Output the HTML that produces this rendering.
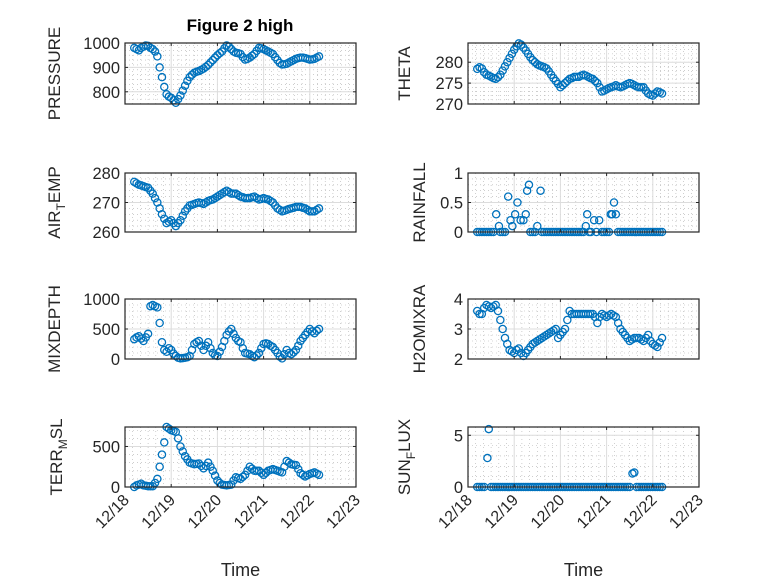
<!DOCTYPE html>
<html><head><meta charset="utf-8"><style>
html,body{margin:0;padding:0;background:#fff;}
svg{display:block;font-family:"Liberation Sans",sans-serif;}
</style></head><body>
<svg id="fig" width="778" height="583" viewBox="0 0 778 583" xmlns="http://www.w3.org/2000/svg">
<rect x="0" y="0" width="778" height="583" fill="#fff"/>
<text x="240" y="31" text-anchor="middle" font-size="17" font-weight="bold" fill="#000">Figure 2 high</text>
</svg>
<script>
const times=[0.20,0.25,0.30,0.35,0.40,0.45,0.50,0.55,0.60,0.65,0.70,0.75,0.80,0.85,0.90,0.95,1.00,1.05,1.10,1.15,1.20,1.25,1.30,1.35,1.40,1.45,1.50,1.55,1.60,1.65,1.70,1.75,1.80,1.85,1.90,1.95,2.00,2.05,2.10,2.15,2.20,2.25,2.30,2.35,2.40,2.45,2.50,2.55,2.60,2.65,2.70,2.75,2.80,2.85,2.90,2.95,3.00,3.05,3.10,3.15,3.20,3.25,3.30,3.35,3.40,3.45,3.50,3.55,3.60,3.65,3.70,3.75,3.80,3.85,3.90,3.95,4.00,4.05,4.10,4.15,4.20];
const pressure=[980,975,970,980,985,990,988,980,975,965,945,900,860,820,790,780,775,765,755,770,785,805,825,845,860,870,878,882,885,890,895,902,910,920,930,940,950,958,965,978,990,985,975,965,960,958,955,942,932,935,940,948,955,968,980,978,975,970,965,960,955,942,930,918,912,913,915,920,925,930,935,938,940,940,938,935,932,933,935,940,945];
const theta=[278.4,278.8,278.5,277.6,277,276.8,276.5,276.2,276,276.4,277,278,279,280,281,282,283,283.8,284.5,284.2,283.5,282.8,282,281.2,280.5,280,279.5,279.2,279,278.8,278.5,277.8,277,276.2,275.5,274.8,274,274.5,275,275.5,276,276.2,276.5,276.5,276.5,276.8,277,276.8,276.5,276.2,276,275.5,275,274,273,273.2,273.5,273.8,274,274.2,274.5,274.2,274,274.2,274.5,274.8,275,274.8,274.5,274.2,274,274,274,273.2,272.5,272.2,272,272.5,273,272.8,272.5];
const airTemp=[277,276.5,276,275.8,275.5,275.2,275,274,273,271.5,270,268,266,264.5,263,263.5,264,263,262,263,264,265.5,267,268,269,269.2,269.5,269.8,270,269.8,269.5,270,270.5,270.8,271,271.5,272,272.5,273,273.5,274,273.5,273,273,273,272.5,272,271.8,271.5,271.5,271.5,271.8,272,271.5,271,271.2,271.5,271.2,271,270.5,270,269,268,267.5,267,267.2,267.5,267.8,268,268.2,268.5,268.5,268.5,268.2,268,267.5,267,267,267,267.5,268];
const mixDepth=[330,360,380,340,300,360,420,880,900,880,860,600,280,150,120,180,150,90,50,20,10,15,20,30,50,150,250,280,300,220,150,220,280,180,100,60,50,120,200,300,400,460,500,420,350,300,280,180,100,90,80,50,30,60,100,180,250,260,250,220,200,150,100,40,10,80,150,100,80,110,150,220,300,350,400,450,500,460,430,470,500];
const h2o=[3.6,3.5,3.5,3.7,3.8,3.75,3.7,3.75,3.8,3.6,3.3,3.0,2.7,2.5,2.3,2.25,2.2,2.3,2.35,2.2,2.1,2.2,2.3,2.4,2.5,2.55,2.6,2.65,2.7,2.75,2.8,2.85,2.9,2.95,3.0,2.7,2.8,2.9,3.0,3.3,3.6,3.5,3.5,3.5,3.5,3.5,3.5,3.5,3.5,3.5,3.5,3.4,3.2,3.4,3.5,3.45,3.4,3.45,3.5,3.45,3.4,3.2,3.0,2.9,2.8,2.7,2.6,2.65,2.7,2.7,2.7,2.65,2.6,2.7,2.8,2.6,2.5,2.45,2.4,2.55,2.7];
const terrMsl=[0,20,30,40,20,15,10,10,10,50,100,250,400,550,740,720,700,690,680,600,500,440,380,340,300,290,280,285,290,260,230,260,300,250,200,140,80,50,30,25,20,25,30,80,120,110,100,125,150,200,250,225,200,200,200,175,150,175,200,210,220,210,200,190,180,250,320,300,280,275,270,220,170,150,130,145,160,170,180,165,150];
const rainTimes=[0.2,0.25,0.3,0.35,0.4,0.45,0.5,0.55,0.61,0.67,0.7,0.75,0.8,0.87,0.92,0.96,1.02,1.07,1.14,1.2,1.25,1.28,1.32,1.35,1.4,1.45,1.5,1.57,1.6,1.65,1.7,1.75,1.8,1.85,1.9,1.95,2.0,2.05,2.1,2.15,2.2,2.25,2.3,2.35,2.4,2.45,2.5,2.55,2.58,2.62,2.66,2.73,2.78,2.84,2.9,2.95,3.0,3.05,3.09,3.12,3.16,3.2,3.25,3.3,3.35,3.4,3.45,3.5,3.55,3.6,3.65,3.7,3.75,3.8,3.85,3.9,3.95,4.0,4.05,4.1,4.15,4.2];
const rainfall=[0,0,0,0,0,0,0,0,0.3,0.1,0,0,0,0.6,0.2,0.1,0.3,0.5,0.2,0.2,0.3,0.7,0.8,0,0,0,0.1,0.7,0,0,0,0,0,0,0,0,0,0,0,0,0,0,0,0,0,0,0,0.1,0.3,0,0,0.2,0,0.2,0,0,0,0,0.3,0.3,0.5,0.3,0,0,0,0,0,0,0,0,0,0,0,0,0,0,0,0,0,0,0,0];
const sunTimes=[0.2,0.25,0.3,0.35,0.42,0.45,0.5,0.55,0.6,0.65,0.7,0.75,0.8,0.85,0.9,0.95,1.0,1.05,1.1,1.15,1.2,1.25,1.3,1.35,1.4,1.45,1.5,1.55,1.6,1.65,1.7,1.75,1.8,1.85,1.9,1.95,2.0,2.05,2.1,2.15,2.2,2.25,2.3,2.35,2.4,2.45,2.5,2.55,2.6,2.65,2.7,2.75,2.8,2.85,2.9,2.95,3.0,3.05,3.1,3.15,3.2,3.25,3.3,3.35,3.4,3.45,3.5,3.56,3.6,3.65,3.7,3.75,3.8,3.85,3.9,3.95,4.0,4.05,4.1,4.15,4.2];
const sunFlux=[0,0,0,0,2.8,5.6,0,0,0,0,0,0,0,0,0,0,0,0,0,0,0,0,0,0,0,0,0,0,0,0,0,0,0,0,0,0,0,0,0,0,0,0,0,0,0,0,0,0,0,0,0,0,0,0,0,0,0,0,0,0,0,0,0,0,0,0,0,1.3,1.4,0,0,0,0,0,0,0,0,0,0,0,0];
const xTickLabels=['12/18','12/19','12/20','12/21','12/22','12/23'];
const pressureTicks=[800,900,1000];
const thetaTicks=[270,275,280];
const airTicks=[260,270,280];
const rainTicks=[0,0.5,1];
const mixTicks=[0,500,1000];
const h2oTicks=[2,3,4];
const terrTicks=[0,500];
const sunTicks=[0,5];

const NS='http://www.w3.org/2000/svg';
const svg=document.getElementById('fig');
function mk(tag,attrs,parent){const e=document.createElementNS(NS,tag);for(const k in attrs)e.setAttribute(k,attrs[k]);(parent||svg).appendChild(e);return e;}

const LX=[125,356],RX=[468,699];
const ROWS=[[43,104],[173,232],[299,359],[427,487]];
const panels=[
 {name:'pressure',xr:LX,yr:ROWS[0],ylim:[750,1000],ticks:pressureTicks,t:times,v:pressure,label:'PRESSURE',lx:60},
 {name:'theta',xr:RX,yr:ROWS[0],ylim:[270,284.6],ticks:thetaTicks,t:times,v:theta,label:'THETA',lx:410},
 {name:'air-temp',xr:LX,yr:ROWS[1],ylim:[260,280],ticks:airTicks,t:times,v:airTemp,label:'AIR_TEMP',lx:60},
 {name:'rainfall',xr:RX,yr:ROWS[1],ylim:[0,1],ticks:rainTicks,t:rainTimes,v:rainfall,label:'RAINFALL',lx:425},
 {name:'mixdepth',xr:LX,yr:ROWS[2],ylim:[0,1000],ticks:mixTicks,t:times,v:mixDepth,label:'MIXDEPTH',lx:60},
 {name:'h2omixra',xr:RX,yr:ROWS[2],ylim:[2,4],ticks:h2oTicks,t:times,v:h2o,label:'H2OMIXRA',lx:425},
 {name:'terr-msl',xr:LX,yr:ROWS[3],ylim:[0,740],ticks:terrTicks,t:times,v:terrMsl,label:'TERR_MSL',lx:62,bottom:true},
 {name:'sun-flux',xr:RX,yr:ROWS[3],ylim:[0,5.8],ticks:sunTicks,t:sunTimes,v:sunFlux,label:'SUN_FLUX',lx:410,bottom:true}
];
panels.forEach(p=>{
 const g=mk('g',{});
 
 
 const [x0,x1]=p.xr,[y0,y1]=p.yr;
 const xs=t=>x0+(t/5)*(x1-x0);
 const ys=v=>y1-(v-p.ylim[0])/(p.ylim[1]-p.ylim[0])*(y1-y0);
 mk('rect',{x:x0,y:y0,width:x1-x0,height:y1-y0,fill:'#fff'},g);
 for(let i=1;i<30;i++){if(i%6===0)continue;const x=xs(i/6);mk('line',{x1:x,x2:x,y1:y0,y2:y1,stroke:'#b0b0b0','stroke-width':0.6,'stroke-dasharray':'1,3'},g);}
 const step=p.ticks[1]-p.ticks[0];const ms=step/5;
 for(let v=p.ylim[0];v<=p.ylim[1]+1e-9;v+=ms){const y=ys(v);if(y<y0||y>y1)continue;mk('line',{x1:x0,x2:x1,y1:y,y2:y,stroke:'#b0b0b0','stroke-width':0.6,'stroke-dasharray':'1,3'},g);}
 for(let d=1;d<5;d++){const x=xs(d);const l=mk('line',{x1:x,x2:x,y1:y0,y2:y1,stroke:'#dcdcdc','stroke-width':1},g);
  }
 p.ticks.forEach(v=>{const y=ys(v);mk('line',{x1:x0,x2:x1,y1:y,y2:y,stroke:'#dcdcdc','stroke-width':1},g);});
 const dg=mk('g',{},g);
 
 
 const n=Math.min(p.t.length,p.v.length);
 for(let i=0;i<n;i++){const c=mk('circle',{cx:xs(p.t[i]),cy:ys(p.v[i]),r:3.6,fill:'none',stroke:'#0072BD','stroke-width':1.3},dg);
  }
 mk('rect',{x:x0,y:y0,width:x1-x0,height:y1-y0,fill:'none',stroke:'#262626','stroke-width':1.2},g);
 for(let d=0;d<=5;d++){const x=xs(d);mk('line',{x1:x,x2:x,y1:y1,y2:y1-3,stroke:'#262626'},g);mk('line',{x1:x,x2:x,y1:y0,y2:y0+3,stroke:'#262626'},g);
  if(p.bottom){const tx=mk('text',{x:x+5,y:y1+14,'text-anchor':'end','font-size':16,fill:'#262626',transform:`rotate(-45 ${x+5} ${y1+14})`},g);tx.textContent=xTickLabels[d];
   }}
 p.ticks.forEach(v=>{const y=ys(v);mk('line',{x1:x0,x2:x0+3,y1:y,y2:y,stroke:'#262626'},g);mk('line',{x1:x1,x2:x1-3,y1:y,y2:y,stroke:'#262626'},g);
  const tx=mk('text',{x:x0-5,y:y+6,'text-anchor':'end','font-size':16.5,fill:'#262626'},g);tx.textContent=String(v);
  });
 const cy=(y0+y1)/2;
 const lab=mk('text',{x:p.lx,y:cy,'text-anchor':'middle','font-size':17,fill:'#262626',transform:`rotate(-90 ${p.lx} ${cy})`},g);
 
 const parts=p.label.split('_');
 if(parts.length===1){lab.textContent=p.label;}else{
  const a=mk('tspan',{},lab);a.textContent=parts[0];
  const b=mk('tspan',{dy:5,'font-size':12},lab);b.textContent=parts[1][0];
  const c=mk('tspan',{dy:-5},lab);c.textContent=parts[1].slice(1);}
 if(p.bottom){const tl=mk('text',{x:(x0+x1)/2,y:576,'text-anchor':'middle','font-size':18,fill:'#262626'},g);tl.textContent='Time';
  }
});
</script>
</body></html>
